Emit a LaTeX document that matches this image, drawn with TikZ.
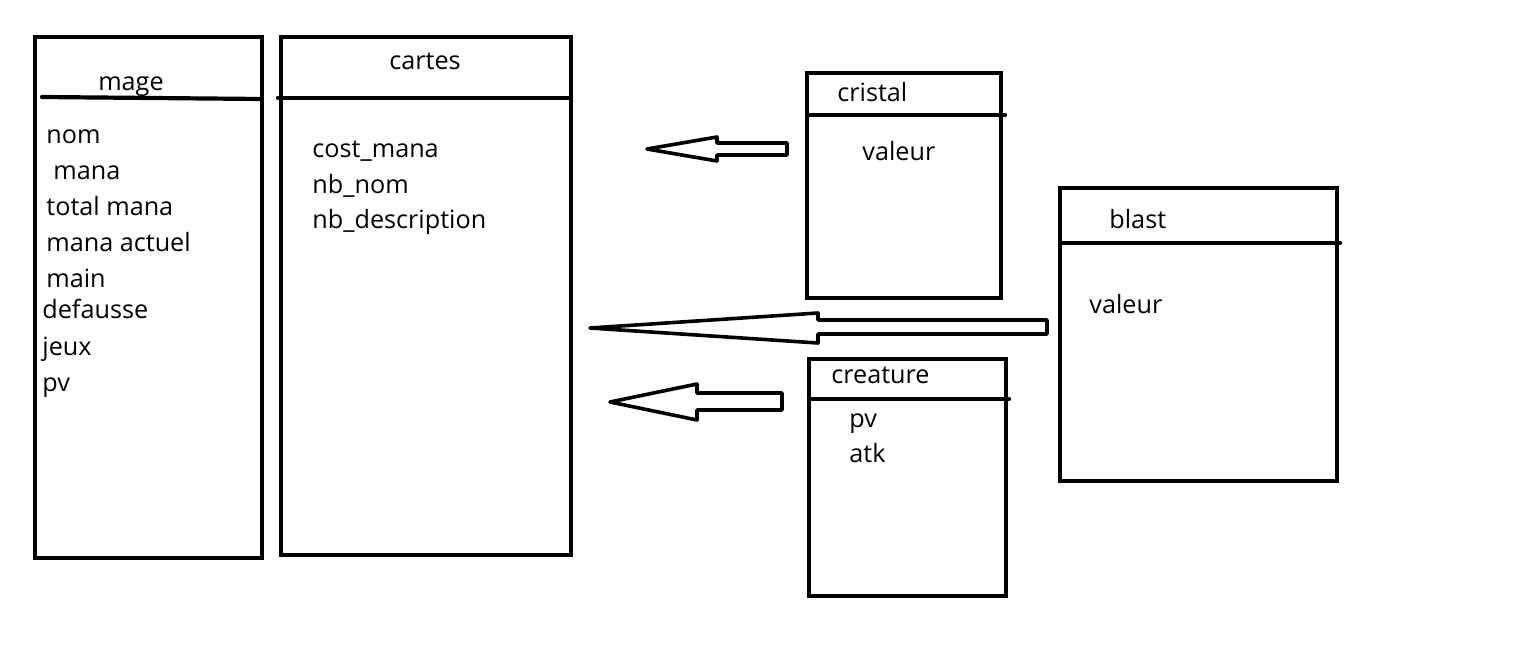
\documentclass[tikz,border=0pt]{standalone}
\usepackage{fontspec}
\setmainfont{Open Sans}
\usepackage{tikz}

\begin{document}
\begin{tikzpicture}[x=0.5pt, y=-0.5pt,
    box/.style={draw, line width=2.1pt, rectangle, anchor=north west, inner sep=0pt, outer sep=0pt},
    bar/.style={line width=2.1pt, line cap=round},
    attr/.style={anchor=mid west, inner sep=0pt, yshift=-2pt, font=\fontsize{12.6}{15}\selectfont},
    blockarrow/.style={draw, line width=1.8pt, line join=round}]
    \useasboundingbox (0,0) rectangle (1536,648);

    % classes
    \node[box, minimum width=113.5pt, minimum height=260.5pt] (mage) at (35,37) {};
    \node[box, minimum width=145pt, minimum height=259pt] (cartes) at (281,37) {};
    \node[box, minimum width=97pt, minimum height=112.5pt] (cristal) at (807,73) {};
    \node[box, minimum width=138.5pt, minimum height=146.5pt] (blast) at (1060,188) {};
    \node[box, minimum width=98.5pt, minimum height=118.5pt] (creature) at (809,359) {};

    % separators
    \draw[bar] (42,97) -- (262,99);
    \draw[bar] (278,98) -- (571,98);
    \draw[bar] (807,115) -- (1005,115);
    \draw[bar] (1060,243) -- (1340,243);
    \draw[bar] (809,399) -- (1009,399);

    % titles
    \node[attr, anchor=mid] (t-mage) at (131,81) {mage};
    \node[attr, anchor=mid] (t-cartes) at (425,60) {cartes};
    \node[attr] (t-cristal) at (837,92) {cristal};
    \node[attr] (t-blast) at (1109,219) {blast};
    \node[attr] (t-creature) at (831,374) {creature};

    % mage
    \node[attr] (m1) at (46,134) {nom};
    \node[attr] (m2) at (53,170) {mana};
    \node[attr] (m3) at (46,206) {total mana};
    \node[attr] (m4) at (46,242) {mana actuel};
    \node[attr] (m5) at (46,278) {main};
    \node[attr] (m6) at (42,309) {defausse};
    \node[attr] (m7) at (42,346) {jeux};
    \node[attr] (m8) at (42,382) {pv};

    % cartes
    \node[attr] (c1) at (312,148) {cost\_mana};
    \node[attr] (c2) at (312,184) {nb\_nom};
    \node[attr] (c3) at (312,219) {nb\_description};

    % cristal, blast, creature
    \node[attr] (cr1) at (862,151) {valeur};
    \node[attr] (b1) at (1089,304) {valeur};
    \node[attr] (ce1) at (849,418) {pv};
    \node[attr] (ce2) at (849,453) {atk};

    % heritage arrows
    \draw[blockarrow] (647,149) -- (717,137) -- (717,143) -- (787,143)
        -- (787,155) -- (717,155) -- (717,161) -- cycle;
    \draw[blockarrow] (590,328) -- (818,313) -- (818,320) -- (1047,320)
        -- (1047,334) -- (818,334) -- (818,343) -- cycle;
    \draw[blockarrow] (610,402) -- (697,384) -- (697,393) -- (782,393)
        -- (782,410) -- (697,410) -- (697,420) -- cycle;
\end{tikzpicture}
\end{document}
